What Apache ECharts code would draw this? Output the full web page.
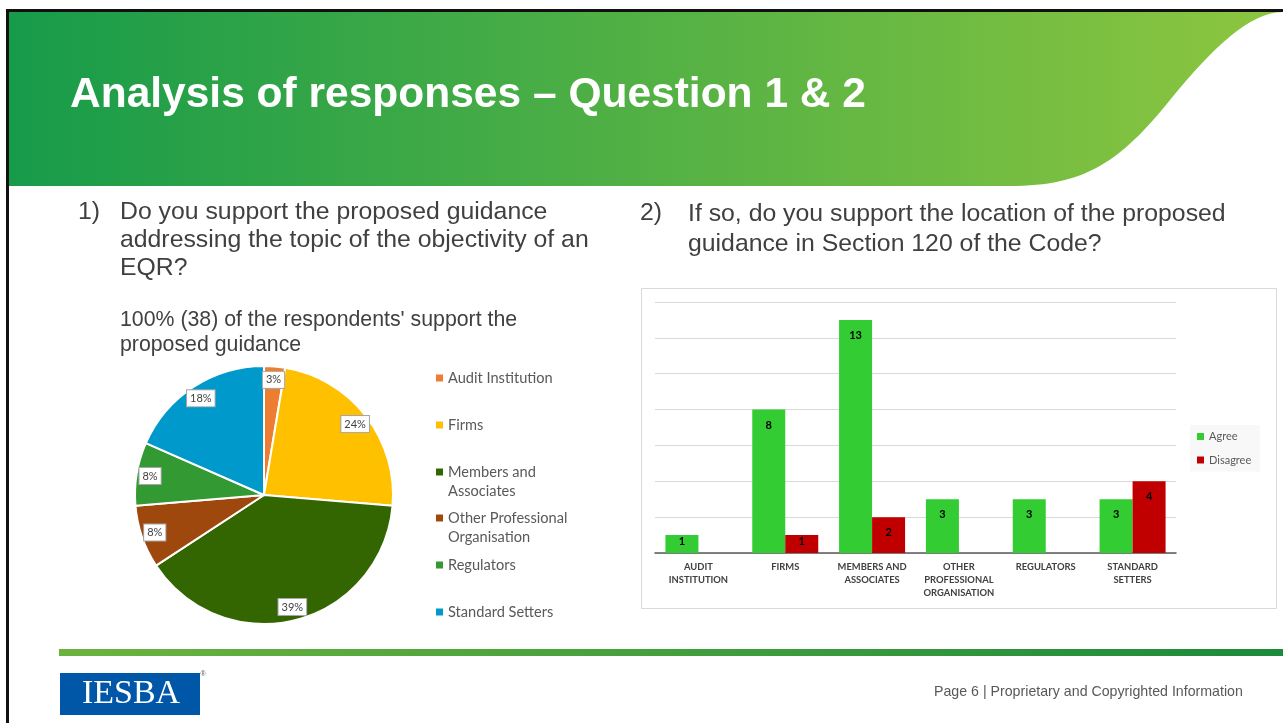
<!DOCTYPE html>
<html>
<head>
<meta charset="utf-8">
<script src="https://cdn.jsdelivr.net/npm/echarts@6/dist/echarts.min.js"></script>
<style>
html,body{margin:0;padding:0;background:#fff;}
#c{width:1283px;height:723px;}
</style>
</head>
<body>
<div id="c"></div>
<script>
// ---- Data ----
var pieCategories = ['Audit Institution', 'Firms', 'Members and Associates', 'Other Professional Organisation', 'Regulators', 'Standard Setters'];
var pieLegendLines = [['Audit Institution'], ['Firms'], ['Members and', 'Associates'], ['Other Professional', 'Organisation'], ['Regulators'], ['Standard Setters']];
var pieValues = [1, 9, 15, 3, 3, 7];
var pieColors = ['#ED7D31', '#FFC000', '#336600', '#9E480E', '#339933', '#0099CC'];

var barCategories = ['AUDIT\nINSTITUTION', 'FIRMS', 'MEMBERS AND\nASSOCIATES', 'OTHER\nPROFESSIONAL\nORGANISATION', 'REGULATORS', 'STANDARD\nSETTERS'];
var agreeValues = [1, 8, 13, 3, 3, 3];
var disagreeValues = [0, 1, 2, 0, 0, 4];

// decorative header wave shape
echarts.graphic.registerShape('headerWave', echarts.graphic.extendShape({
  shape: {},
  buildPath: function (ctx) {
    ctx.moveTo(9, 12);
    ctx.lineTo(1282, 12);
    ctx.bezierCurveTo(1250, 13, 1215, 45, 1170, 100);
    ctx.bezierCurveTo(1120, 162, 1085, 186, 1010, 186);
    ctx.lineTo(9, 186);
    ctx.closePath();
  }
}));

var chart = echarts.init(document.getElementById('c'), null, {renderer: 'canvas', width: 1283, height: 723});

var LEG_LH = 19;
var legendCenters = [378, 425, 472, 518, 565, 612];
var pieLegends = pieCategories.map(function (name, i) {
  var lines = pieLegendLines[i];
  var two = lines.length > 1;
  return {
    orient: 'vertical',
    left: 436,
    top: two ? legendCenters[i] - 1.5 * LEG_LH : legendCenters[i] - LEG_LH / 2,
    padding: 0,
    itemWidth: 7,
    itemHeight: 7,
    icon: 'rect',
    itemStyle: {borderWidth: 0},
    data: [name],
    // an empty leading line keeps the first text line level with the symbol
    formatter: function () { return two ? '\n' + lines.join('\n') : lines[0]; },
    textStyle: {fontFamily: 'Lato', fontSize: 14.6, color: '#595959', lineHeight: LEG_LH}
  };
});

function barLabel(v) {
  return v <= 1 ? {value: v, label: {distance: 1}} : v;
}

var barLabelStyle = {show: true, position: 'insideTop', distance: 10, fontFamily: 'Lato', fontSize: 11, fontWeight: 'bold', color: '#000',
  formatter: function (p) { return p.value ? String(p.value) : ''; }};

var option = {
  animation: false,
  textStyle: {fontFamily: 'Lato'},
  legend: pieLegends.concat([{
    orient: 'vertical',
    left: 1190,
    top: 425,
    itemWidth: 7,
    itemHeight: 7,
    itemGap: 12.5,
    icon: 'rect',
    padding: [6, 9, 6, 7],
    backgroundColor: '#f8f8f8',
    data: ['Agree', 'Disagree'],
    textStyle: {fontFamily: 'Lato', fontSize: 11, color: '#595959'}
  }]),
  grid: {left: 655, top: 302, width: 521, height: 251, containLabel: false},
  xAxis: {
    type: 'category',
    data: barCategories,
    axisTick: {show: false},
    axisLine: {lineStyle: {color: '#595959', width: 1.5}},
    axisLabel: {interval: 0, fontFamily: 'Lato', fontSize: 9.4, fontWeight: 'bold', color: '#404040', lineHeight: 12.8, margin: 8}
  },
  yAxis: {
    type: 'value', min: 0, max: 14, interval: 2,
    axisLabel: {show: false}, axisLine: {show: false}, axisTick: {show: false},
    splitLine: {lineStyle: {color: '#d9d9d9', width: 1}}
  },
  series: [
    {
      type: 'pie',
      name: 'Q1',
      center: [264, 495],
      radius: [0, 129],
      startAngle: 90,
      clockwise: true,
      avoidLabelOverlap: false,
      label: {show: false},
      labelLine: {show: false},
      itemStyle: {borderColor: '#ffffff', borderWidth: 2},
      data: pieCategories.map(function (n, i) { return {name: n, value: pieValues[i], itemStyle: {color: pieColors[i]}}; })
    },
    {
      type: 'pie',
      name: 'Q1labels',
      center: [264, 495],
      radius: [96, 129],
      startAngle: 90,
      clockwise: true,
      silent: true,
      avoidLabelOverlap: false,
      itemStyle: {color: 'rgba(0,0,0,0)', borderWidth: 0},
      label: {
        show: true, position: 'inside', rotate: 0,
        formatter: function (p) { return Math.round(p.percent) + '%'; },
        fontFamily: 'Lato', fontSize: 11, color: '#404040',
        backgroundColor: '#ffffff', borderColor: '#a6a6a6', borderWidth: 1,
        padding: [3, 3, 2, 3]
      },
      labelLine: {show: false},
      data: pieCategories.map(function (n, i) { return {name: n, value: pieValues[i]}; })
    },
    {
      type: 'bar',
      name: 'Agree',
      barWidth: 33,
      barGap: '0%',
      itemStyle: {color: '#33CC33'},
      label: barLabelStyle,
      data: agreeValues.map(barLabel)
    },
    {
      type: 'bar',
      name: 'Disagree',
      barWidth: 33,
      barGap: '0%',
      itemStyle: {color: '#C00000'},
      label: barLabelStyle,
      data: disagreeValues.map(barLabel)
    }
  ],
  graphic: [
    // black frame lines
    {type: 'rect', z: 100, shape: {x: 6, y: 9, width: 1277, height: 3}, style: {fill: '#111'}},
    {type: 'rect', z: 100, shape: {x: 6, y: 9, width: 3, height: 714}, style: {fill: '#111'}},
    // header
    {type: 'headerWave', z: 1, shape: {},
      style: {fill: {type: 'linear', x: 0, y: 0, x2: 1, y2: 0, colorStops: [{offset: 0, color: '#179b4a'}, {offset: 1, color: '#8dc63f'}]}}},
    {type: 'text', z: 5, style: {text: 'Analysis of responses \u2013 Question 1 & 2', x: 70, y: 95, verticalAlign: 'middle',
      fontFamily: 'Liberation Sans', fontSize: 42.5, fontWeight: 'bold', fill: '#ffffff'}},
    // question 1
    {type: 'text', style: {text: '1)', x: 78, y: 212, verticalAlign: 'middle', fontFamily: 'Liberation Sans', fontSize: 24.8, fill: '#404040'}},
    {type: 'text', style: {text: 'Do you support the proposed guidance\naddressing the topic of the objectivity of an\nEQR?', x: 120, y: 198, lineHeight: 28, verticalAlign: 'top', fontFamily: 'Liberation Sans', fontSize: 24.8, fill: '#404040'}},
    {type: 'text', style: {text: "100% (38) of the respondents' support the\nproposed guidance", x: 120, y: 308, lineHeight: 25, verticalAlign: 'top', fontFamily: 'Liberation Sans', fontSize: 21.3, fill: '#404040'}},
    // question 2
    {type: 'text', style: {text: '2)', x: 640, y: 213, verticalAlign: 'middle', fontFamily: 'Liberation Sans', fontSize: 24.8, fill: '#404040'}},
    {type: 'text', style: {text: 'If so, do you support the location of the proposed\nguidance in Section 120 of the Code?', x: 688, y: 199, lineHeight: 30, verticalAlign: 'top', fontFamily: 'Liberation Sans', fontSize: 24.8, fill: '#404040'}},
    // bar chart frame
    {type: 'rect', z: -1, shape: {x: 641.5, y: 288.5, width: 635, height: 320}, style: {fill: 'none', stroke: '#d9d9d9', lineWidth: 1}},
    // bottom green band
    {type: 'rect', shape: {x: 59, y: 649, width: 1224, height: 7},
      style: {fill: {type: 'linear', x: 0, y: 0, x2: 1, y2: 0, colorStops: [{offset: 0, color: '#6cb33e'}, {offset: 1, color: '#1b8a3b'}]}}},
    // logo
    {type: 'rect', shape: {x: 60, y: 673, width: 140, height: 42}, style: {fill: '#0057a8'}},
    {type: 'text', style: {text: 'IESBA', x: 131, y: 694, align: 'center', verticalAlign: 'middle', fontFamily: 'Liberation Serif', fontSize: 34, fill: '#ffffff'}},
    {type: 'text', style: {text: '\u00ae', x: 203, y: 674, align: 'center', verticalAlign: 'middle', fontFamily: 'Liberation Sans', fontSize: 7, fill: '#555'}},
    // footer
    {type: 'text', style: {text: 'Page 6 | Proprietary and Copyrighted Information', x: 934, y: 692, verticalAlign: 'middle', fontFamily: 'Liberation Sans', fontSize: 14.2, fill: '#595959'}}
  ]
};
chart.setOption(option);
</script>
</body>
</html>
